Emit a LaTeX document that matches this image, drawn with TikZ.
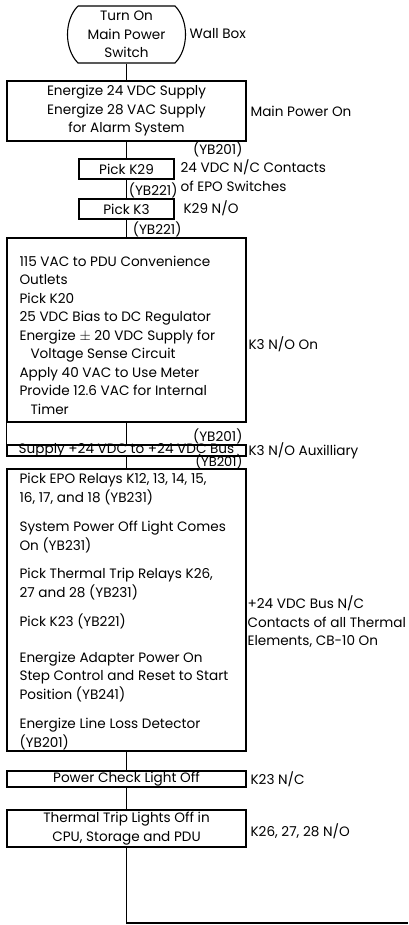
\documentclass[tikz,border=0pt]{standalone}
\usepackage{fontspec}
\setmainfont{Poppins}
\begin{document}
\begin{tikzpicture}[x=1pt,y=-1pt, line width=1.1pt,
  txt/.style={font=\fontsize{13.6}{18.5}\selectfont, inner sep=0pt},
  box/.style={draw, rectangle, inner sep=0pt, anchor=center},
  lab/.style={txt, anchor=west, align=left},
  yb/.style={txt, anchor=east},
  para/.style={txt, anchor=west, align=left}]
\useasboundingbox (0,0) rectangle (408,925);
% terminal
\draw (78,6) -- (175,6) .. controls (189,20) and (189,49) .. (175,63) -- (78,63) .. controls (64,49) and (64,20) .. (78,6);
\node[txt, align=center, minimum width=118pt, minimum height=57pt] (term) at (126.5,34.5) {Turn On\\Main Power\\Switch};
\node[lab] (lwall) at (189,34) {Wall Box};
% box2
\node[box, txt, align=center, minimum width=239pt, minimum height=60pt] (b2) at (126.5,111) {Energize 24 VDC Supply\\Energize 28 VAC Supply\\for Alarm System};
\node[lab] (lmain) at (250,111) {Main Power On};
\node[yb] (y1) at (243,149) {(YB201)};
% K29
\node[box, txt, minimum width=95pt, minimum height=20pt] (k29) at (126.5,169) {Pick K29};
\node[lab] (lk29) at (180,175.5) {24 VDC N/C Contacts\\of EPO Switches};
\node[yb] (y2) at (178,190) {(YB221)};
% K3
\node[box, txt, minimum width=95pt, minimum height=20pt] (k3) at (126.5,209) {Pick K3};
\node[lab] (lk3) at (183,208) {K29 N/O};
\node[yb] (y3) at (182,229) {(YB221)};
% box3
\node[box, minimum width=239pt, minimum height=184pt] (b3) at (126.5,330) {};
\node[para] (t3) at (19,335) {115 VAC to PDU Convenience\\Outlets\\Pick K20\\25 VDC Bias to DC Regulator\\Energize $\pm$ 20 VDC Supply for\\\hspace*{11pt}Voltage Sense Circuit\\Apply 40 VAC to Use Meter\\Provide 12.6 VAC for Internal\\\hspace*{11pt}Timer};
\node[lab] (lb3) at (248,344) {K3 N/O On};
\node[yb] (y4) at (243,436) {(YB201)};
% supply
\node[box, txt, minimum width=239pt, text height=8pt, text depth=3pt] (sup) at (126.5,450.5) {Supply +24 VDC to +24 VDC Bus};
\node[lab] (lsup) at (248,450.5) {K3 N/O Auxilliary};
\node[yb, font=\fontsize{13}{18}\selectfont] (y5) at (243,461.5) {(YB201)};
% box4
\node[box, minimum width=239pt, minimum height=282pt] (b4) at (126.5,610) {};
\node[para] (p1) at (19,489) {Pick EPO Relays K12, 13, 14, 15,\\16, 17, and 18 (YB231)};
\node[para] (p2) at (19,537) {System Power Off Light Comes\\On (YB231)};
\node[para] (p3) at (19,584) {Pick Thermal Trip Relays K26,\\27 and 28 (YB231)};
\node[para] (p4) at (19,621) {Pick K23 (YB221)};
\node[para] (p5) at (19,677) {Energize Adapter Power On\\Step Control and Reset to Start\\Position (YB241)};
\node[para] (p6) at (19,734) {Energize Line Loss Detector\\(YB201)};
\node[lab] (lb4) at (247,622) {+24 VDC Bus N/C\\Contacts of all Thermal\\Elements, CB-10 On};
% power check
\node[box, txt, minimum width=239pt, minimum height=16pt] (pc) at (126.5,779) {Power Check Light Off};
\node[lab] (lpc) at (250,779) {K23 N/C};
% thermal
\node[box, txt, align=center, minimum width=239pt, minimum height=37pt] (tt) at (126.5,828.5) {Thermal Trip Lights Off in\\CPU, Storage and PDU};
\node[lab] (ltt) at (250,831) {K26, 27, 28 N/O};
\coordinate (corner) at (126.5,923);
\coordinate (exit) at (408,923);
% connectors
\draw (term.south) -- (b2.north);
\draw (b2.south) -- (k29.north);
\draw (k29.south) -- (k3.north);
\draw (k3.south) -- (b3.north);
\draw (b3.south) -- (sup.north);
\draw (b3.south west) -- (sup.north west);
\draw (sup.south) -- (b4.north);
\draw (b4.south) -- (pc.north);
\draw (pc.south) -- (tt.north);
\draw (tt.south) -- (corner) -- (exit);
\end{tikzpicture}
\end{document}
